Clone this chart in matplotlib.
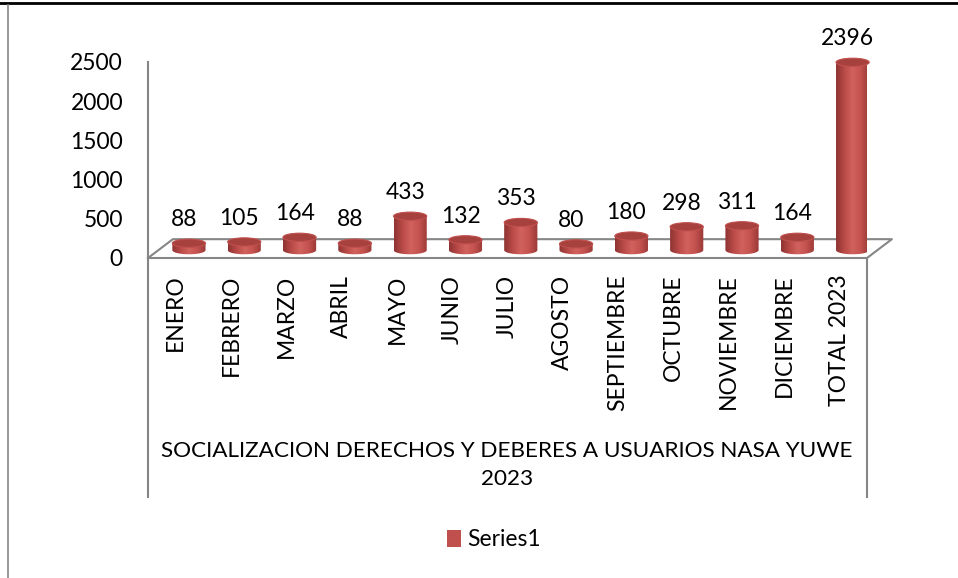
import numpy as np
import matplotlib
matplotlib.use("Agg")
import matplotlib.pyplot as plt
from matplotlib.patches import Ellipse, Polygon, Patch
from matplotlib.colors import LinearSegmentedColormap
from matplotlib.lines import Line2D

# data
months = ['ENERO', 'FEBRERO', 'MARZO', 'ABRIL', 'MAYO', 'JUNIO', 'JULIO',
          'AGOSTO', 'SEPTIEMBRE', 'OCTUBRE', 'NOVIEMBRE', 'DICIEMBRE', 'TOTAL 2023']
values = [88, 105, 164, 88, 433, 132, 353, 80, 180, 298, 311, 164, 2396]
yticks = [0, 500, 1000, 1500, 2000, 2500]
group_title = 'SOCIALIZACION DERECHOS Y DEBERES A USUARIOS NASA YUWE\n2023'
series_name = 'Series1'

plt.rcParams['font.family'] = ['Lato', 'DejaVu Sans']

red = '#C0504D'
grey = '#868686'
cmap = LinearSegmentedColormap.from_list('cyl', ['#8E3432', '#B94A47', '#D2625E', '#C4524F', '#9A3936'])

fig = plt.figure(figsize=(9.58, 5.78), dpi=100)
ax = fig.add_axes([148/958, 1-258/578, 719/958, 196/578])

n = len(values)
xmin, xmax = -0.5, n - 0.5
ax.set_xlim(xmin, xmax)
ax.set_ylim(0, 2500)

# 3d floor depth (category units / value units)
dx, dy = 0.45, 240
# floor
ax.plot([xmin, xmax, xmax + dx, xmin + dx, xmin], [0, 0, dy, dy, 0],
        color=grey, lw=1.5, clip_on=False, zorder=1)

# cylinders
w = 0.6
cap = 105
base = 100
t = np.linspace(np.pi, 2*np.pi, 40)
for i, v in enumerate(values):
    xc = i + 0.24
    top = base + v
    pts = [(xc - w/2, top), (xc - w/2, base)]
    pts += list(zip(xc + w/2*np.cos(t), base + cap/2*np.sin(t)))
    pts += [(xc + w/2, base), (xc + w/2, top)]
    body = Polygon(pts, closed=True, facecolor='none', edgecolor='none')
    ax.add_patch(body)
    im = ax.imshow(np.linspace(0, 1, 64).reshape(1, -1), cmap=cmap, aspect='auto',
                   extent=(xc - w/2, xc + w/2, base - cap, top), zorder=3,
                   interpolation='bilinear')
    im.set_clip_path(body)
    ax.add_patch(Ellipse((xc, top), w, cap, facecolor='#A7413E', edgecolor='#C0504D',
                         lw=0.8, zorder=4, clip_on=False))
    ax.text(i + 0.15, top + 300, str(v), ha='center', va='center', fontsize=16.5,
            color='black', zorder=5, clip_on=False)

ax.set_xlim(xmin, xmax)
ax.set_ylim(0, 2500)

ax.set_yticks(yticks)
ax.set_yticklabels([str(y) for y in yticks], fontsize=16.5)
ax.set_xticks(range(n))
ax.set_xticklabels(months, rotation=90, fontsize=16.5, va='top', ha='center')
ax.tick_params(axis='both', length=0)
ax.tick_params(axis='x', pad=12)
ax.tick_params(axis='y', pad=18)

for s in ['top', 'right', 'bottom']:
    ax.spines[s].set_visible(False)
ax.spines['left'].set_color(grey)
ax.spines['left'].set_linewidth(1.5)

# group label box lines
for xx in [148, 867]:
    fig.add_artist(Line2D([xx/958, xx/958], [1-258/578, 1-497/578], color=grey, lw=1.5))

fig.text(507/958, 1-465/578, group_title, ha='center', va='center', fontsize=16.2,
         linespacing=1.55)

fig.legend(handles=[Patch(facecolor=red, edgecolor='none')], labels=[series_name],
           loc='center', bbox_to_anchor=(494/958, 1-540/578), frameon=False,
           fontsize=16.5, handlelength=0.6, handleheight=0.8, handletextpad=0.3)

# outer frame lines
fig.add_artist(Line2D([0, 1], [1-3/578, 1-3/578], color='black', lw=2))
fig.add_artist(Line2D([8/958, 8/958], [1-5/578, 0], color=grey, lw=1.2))

fig.savefig('out.png', dpi=100)
